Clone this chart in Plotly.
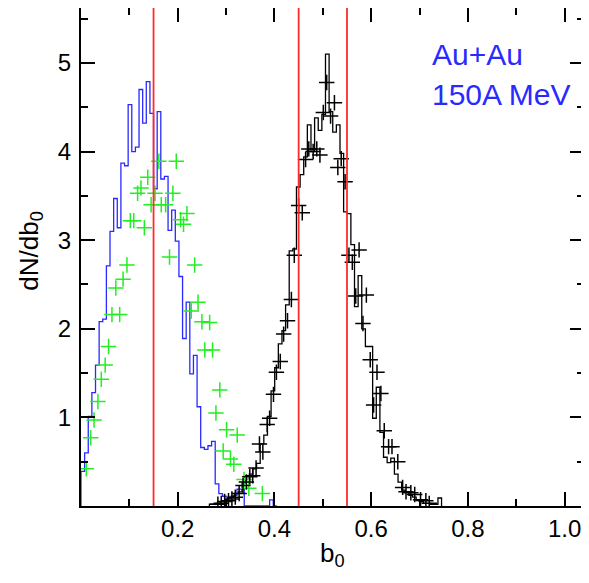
import numpy as np
import plotly.graph_objects as go

# model histogram (blue), bin width 0.0075 starting at b0 = 0
blue_start = 0.0
blue_width = 0.0075
blue_counts = [0.39, 0.60, 1.01, 1.28, 1.59, 2.08, 2.11, 2.71, 3.10, 3.47,
               3.14, 3.87, 3.84, 4.53, 4.00, 4.05, 4.70, 4.32, 4.79, 4.43,
               3.58, 4.45, 3.69, 3.72, 3.11, 3.34, 2.99, 2.59, 1.89, 2.30,
               1.49, 1.70, 1.12, 0.66, 0.64, 0.68, 0.73, 0.25, 0.14, 0.11,
               0.10, 0.10, 0.12, 0.19, 0.19, 0, 0, 0, 0, 0,
               0, 0, 0.07, 0]

# model histogram (black), bin width 0.0075 starting at b0 = 0.2655
black_start = 0.2655
black_width = 0.0075
black_counts = [0.02, 0.02, 0.03, 0.05, 0.06, 0.09, 0.11, 0.14, 0.16, 0.26,
                0.30, 0.36, 0.42, 0.48, 0.70, 0.80, 1.01, 1.30, 1.56, 1.83,
                1.98, 2.27, 2.88, 2.90, 3.60, 3.74, 3.94, 4.30, 4.00, 4.38,
                4.24, 4.42, 5.10, 4.45, 4.22, 4.30, 3.98, 3.32, 3.30, 2.95,
                2.25, 2.60, 2.00, 1.80, 1.80, 0.99, 1.34, 0.83, 0.55, 0.49,
                0.54, 0.36, 0.27, 0.18, 0.16, 0.12, 0.10, 0.06, 0.05, 0.03,
                0.03, 0.02, 0.02, 0.09]

# data points (green)
green_b = [0.011, 0.020, 0.027, 0.035, 0.042, 0.050, 0.057, 0.064, 0.072, 0.080,
           0.087, 0.095, 0.102, 0.109, 0.117, 0.124, 0.131, 0.138, 0.145, 0.153,
           0.161, 0.166, 0.175, 0.183, 0.190, 0.197, 0.206, 0.212, 0.219, 0.228,
           0.235, 0.242, 0.250, 0.256, 0.266, 0.272, 0.279, 0.287, 0.294, 0.301,
           0.309, 0.316, 0.323, 0.337, 0.347, 0.375]
green_dn = [0.42, 0.77, 0.97, 1.18, 1.43, 1.59, 1.80, 2.16, 2.46, 2.16,
            2.56, 2.72, 3.22, 3.22, 3.53, 3.59, 3.14, 3.71, 3.40, 3.53,
            3.89, 3.40, 3.40, 2.81, 3.53, 3.89, 3.23, 3.18, 3.30, 2.20,
            2.72, 2.30, 2.08, 1.76, 2.07, 1.76, 1.05, 1.31, 0.62, 0.86,
            0.53, 0.47, 0.80, 0.30, 0.20, 0.14]

# data points (black)
black_b = [0.283, 0.290, 0.297, 0.305, 0.312, 0.319, 0.327, 0.335, 0.342, 0.349,
           0.355, 0.362, 0.369, 0.376, 0.385, 0.390, 0.398, 0.404, 0.412, 0.419,
           0.427, 0.435, 0.441, 0.450, 0.4575, 0.4644, 0.471, 0.480, 0.4875, 0.494,
           0.501, 0.508, 0.516, 0.524, 0.531, 0.538, 0.546, 0.554, 0.561, 0.568,
           0.575, 0.583, 0.590, 0.598, 0.605, 0.612, 0.620, 0.627, 0.636, 0.643,
           0.655, 0.665, 0.672, 0.682, 0.690, 0.702, 0.713, 0.720]
black_dn = [0.02, 0.03, 0.05, 0.06, 0.08, 0.10, 0.14, 0.23, 0.27, 0.33,
            0.34, 0.43, 0.70, 0.61, 0.92, 0.99, 1.26, 1.51, 1.63, 1.94,
            2.09, 2.33, 2.83, 3.39, 3.31, 3.91, 4.03, 4.00, 4.03, 3.96,
            4.44, 4.78, 4.40, 4.55, 3.82, 3.92, 3.66, 2.83, 2.75, 2.37,
            2.89, 2.06, 2.38, 1.65, 1.14, 1.51, 1.27, 0.85, 0.67, 0.67,
            0.50, 0.21, 0.16, 0.15, 0.13, 0.07, 0.06, 0.03]

# centrality cuts
cut_values = [0.15, 0.45, 0.55]


def step_xy(start, width, counts):
    # outline of a histogram: edges with a drop to zero at both ends
    edges = start + width * np.arange(len(counts) + 1)
    x = np.concatenate([[edges[0]], edges])
    y = np.concatenate([[0], counts, [0]])
    return x, y


fig = go.Figure()

bx, by = step_xy(blue_start, blue_width, blue_counts)
fig.add_trace(go.Scatter(x=bx, y=by, mode='lines', line_shape='hv',
                         line=dict(color='#2a2aff', width=1.3)))

kx, ky = step_xy(black_start, black_width, black_counts)
fig.add_trace(go.Scatter(x=kx, y=ky, mode='lines', line_shape='hv',
                         line=dict(color='black', width=1.3)))

fig.add_trace(go.Scatter(x=green_b, y=green_dn, mode='markers',
                         marker=dict(symbol='cross-thin', size=11,
                                     line=dict(color='#22ee22', width=1.5))))
fig.add_trace(go.Scatter(x=black_b, y=black_dn, mode='markers',
                         marker=dict(symbol='cross-thin', size=11,
                                     line=dict(color='black', width=1.5))))

for c in cut_values:
    fig.add_vline(x=c, line=dict(color='#ff2a2a', width=1.8))

fig.add_annotation(x=0.694, y=0.907, xref='paper', yref='paper', text='Au+Au',
                   showarrow=False, xanchor='left', yanchor='middle',
                   font=dict(size=30, color='#2a2aff'))
fig.add_annotation(x=0.694, y=0.826, xref='paper', yref='paper', text='150A MeV',
                   showarrow=False, xanchor='left', yanchor='middle',
                   font=dict(size=30, color='#2a2aff'))

# axis titles
fig.add_annotation(x=0.5, y=-0.098, xref='paper', yref='paper',
                   text='b<sub>0</sub>', showarrow=False,
                   xanchor='center', yanchor='middle',
                   font=dict(size=26, color='black'))
fig.add_annotation(x=-0.101, y=0.513, xref='paper', yref='paper',
                   text='dN/db<sub>0</sub>', showarrow=False, textangle=-90,
                   xanchor='center', yanchor='middle',
                   font=dict(size=26, color='black'))

axis_style = dict(showgrid=False, zeroline=False, showline=True, linewidth=2,
                  linecolor='black', mirror='allticks', ticks='inside',
                  ticklen=14, tickwidth=1.5, tickcolor='black', automargin=False,
                  tickfont=dict(size=24, color='black'))

fig.update_xaxes(range=[0, 1.04], tickvals=[0.2, 0.4, 0.6, 0.8, 1.0],
                 ticktext=['0.2', '0.4', '0.6', '0.8', '1.0'],
                 minor=dict(tickvals=[0.1, 0.3, 0.5, 0.7, 0.9], ticklen=7,
                            ticks='inside', tickcolor='black', tickwidth=1.5),
                 ticklabelstandoff=0, **axis_style)
fig.update_yaxes(range=[0, 5.62], tickvals=[1, 2, 3, 4, 5],
                 minor=dict(tickvals=[0.5, 1.5, 2.5, 3.5, 4.5, 5.5], ticklen=7,
                            ticks='inside', tickcolor='black', tickwidth=1.5),
                 ticklabelstandoff=3, **axis_style)

# the page adds an 8px body margin, so the figure is 8px smaller than the window
fig.update_layout(width=581, height=575, showlegend=False,
                  margin=dict(l=73, r=5, t=0, b=77),
                  paper_bgcolor='white', plot_bgcolor='white',
                  font=dict(family='Liberation Sans, Arial, sans-serif'))

fig.write_html("out.html")
